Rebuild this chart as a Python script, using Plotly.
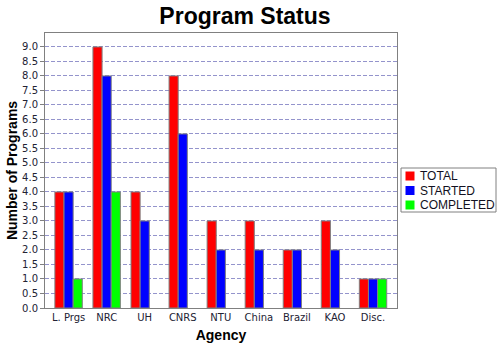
import plotly.graph_objects as go

agencies = ["L. Prgs", "NRC", "UH", "CNRS", "NTU", "China", "Brazil", "KAO", "Disc."]
total = [4, 9, 4, 8, 3, 3, 2, 3, 1]
started = [4, 8, 3, 6, 2, 2, 2, 2, 1]
completed = [1, 4, 0, 0, 0, 0, 0, 0, 1]
series_names = ["TOTAL", "STARTED", "COMPLETED"]
series_colors = ["#ff0000", "#0000ff", "#00ff00"]
series_values = [total, started, completed]
yticks = [i * 0.5 for i in range(19)]

W, H = 500, 350
L, R, T, B = 45, 103, 33, 42
PW, PH = W - L - R, H - T - B

def px_x(p):
    return (p - L) / PW

def px_y(p):
    return (H - B - p) / PH

fig = go.Figure()
for name, vals, color in zip(series_names, series_values, series_colors):
    fig.add_trace(go.Bar(
        name=name, x=agencies, y=[v if v else None for v in vals],
        marker=dict(color=color, line=dict(color="#808080", width=1)),
        showlegend=False,
    ))

shapes = []
annotations = []
# legend box (drawn manually)
shapes.append(dict(type="rect", xref="paper", yref="paper",
                   x0=px_x(401), x1=px_x(496), y0=px_y(212), y1=px_y(168),
                   line=dict(color="#808080", width=1), fillcolor="white", layer="above"))
for i, (name, color) in enumerate(zip(series_names, series_colors)):
    cy = 176 + i * 14.5
    shapes.append(dict(type="rect", xref="paper", yref="paper",
                       x0=px_x(405.5), x1=px_x(414.5), y0=px_y(cy + 4.5), y1=px_y(cy - 4.5),
                       line=dict(width=0), fillcolor=color, layer="above"))
    annotations.append(dict(text=name, xref="paper", yref="paper", x=px_x(418), y=px_y(cy),
                            xanchor="left", yanchor="middle", showarrow=False,
                            font=dict(family="Liberation Sans, Arial", size=12, color="#111122")))

fig.update_layout(
    width=W, height=H,
    margin=dict(l=L, r=R, t=T, b=B, autoexpand=False),
    paper_bgcolor="white", plot_bgcolor="white",
    barmode="group", bargap=0.28, bargroupgap=0,
    title=dict(text="<b>Program Status</b>", x=0.49, xanchor="center", y=0.955, yanchor="middle",
               font=dict(family="Liberation Sans, Arial", size=23, color="black")),
    font=dict(family="DejaVu Sans", size=10, color="#222233"),
    shapes=shapes, annotations=annotations,
    showlegend=False,
)
fig.update_xaxes(
    range=[-0.62, 8.63], showgrid=False, showline=True, linecolor="#808080", linewidth=1,
    mirror=True, ticks="", 
    tickfont=dict(family="DejaVu Sans", size=10, color="#222233"),
    title=dict(text="<b>Agency</b>", font=dict(family="Liberation Sans, Arial", size=14, color="black"), standoff=8),
)
fig.update_yaxes(
    range=[0, 9.48], tickvals=yticks, tickformat=".1f",
    showgrid=True, gridcolor="#9494cc", griddash="4px,2px", gridwidth=1,
    showline=True, linecolor="#808080", linewidth=1, mirror=True,
    ticks="outside", ticklen=4, tickcolor="#808080", zeroline=False,
    tickfont=dict(family="DejaVu Sans", size=10, color="#222233"),
    title=dict(text="<b>Number of Programs</b>", font=dict(family="Liberation Sans, Arial", size=14, color="black"), standoff=1),
)

fig.write_html("out.html")
